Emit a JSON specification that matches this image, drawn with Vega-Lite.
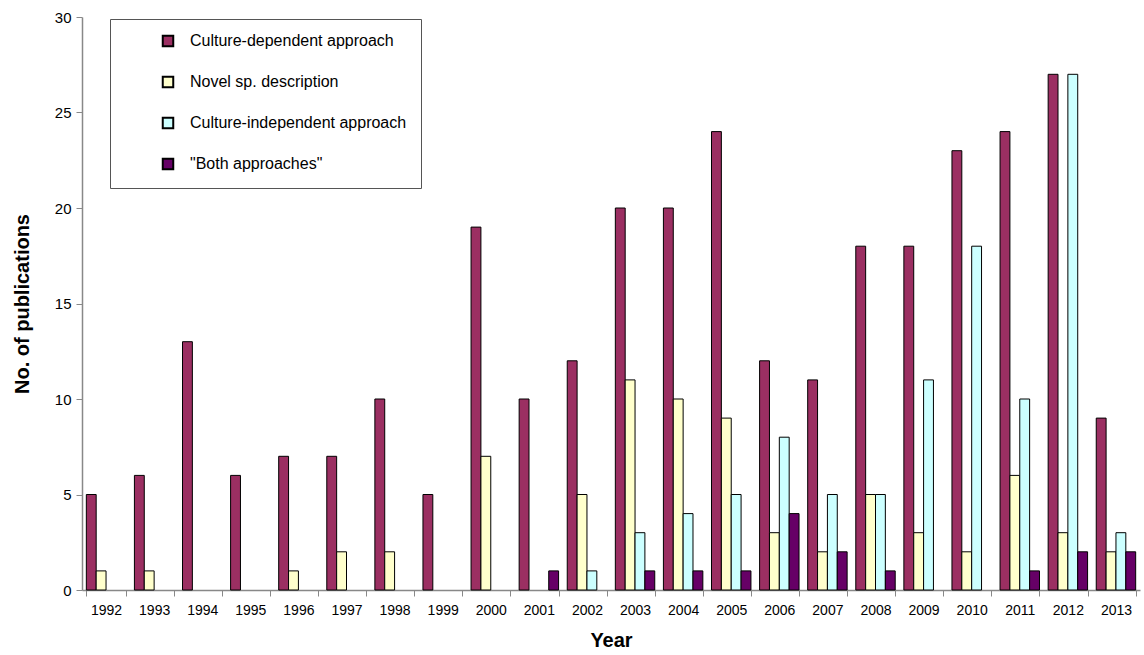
{
  "$schema": "https://vega.github.io/schema/vega-lite/v6.json",
  "width": 1058,
  "height": 573,
  "autosize": {"type": "none"},
  "padding": {"left": 82, "top": 17, "right": 4, "bottom": 65},
  "background": "white",
  "config": {
    "view": {"stroke": null},
    "font": "Liberation Sans",
    "axis": {"labelFont": "Liberation Sans", "titleFont": "Liberation Sans"}
  },
  "data": {
    "values": [
      {"year": "1992", "type": "Culture-dependent approach", "n": 5},
      {"year": "1993", "type": "Culture-dependent approach", "n": 6},
      {"year": "1994", "type": "Culture-dependent approach", "n": 13},
      {"year": "1995", "type": "Culture-dependent approach", "n": 6},
      {"year": "1996", "type": "Culture-dependent approach", "n": 7},
      {"year": "1997", "type": "Culture-dependent approach", "n": 7},
      {"year": "1998", "type": "Culture-dependent approach", "n": 10},
      {"year": "1999", "type": "Culture-dependent approach", "n": 5},
      {"year": "2000", "type": "Culture-dependent approach", "n": 19},
      {"year": "2001", "type": "Culture-dependent approach", "n": 10},
      {"year": "2002", "type": "Culture-dependent approach", "n": 12},
      {"year": "2003", "type": "Culture-dependent approach", "n": 20},
      {"year": "2004", "type": "Culture-dependent approach", "n": 20},
      {"year": "2005", "type": "Culture-dependent approach", "n": 24},
      {"year": "2006", "type": "Culture-dependent approach", "n": 12},
      {"year": "2007", "type": "Culture-dependent approach", "n": 11},
      {"year": "2008", "type": "Culture-dependent approach", "n": 18},
      {"year": "2009", "type": "Culture-dependent approach", "n": 18},
      {"year": "2010", "type": "Culture-dependent approach", "n": 23},
      {"year": "2011", "type": "Culture-dependent approach", "n": 24},
      {"year": "2012", "type": "Culture-dependent approach", "n": 27},
      {"year": "2013", "type": "Culture-dependent approach", "n": 9},
      {"year": "1992", "type": "Novel sp. description", "n": 1},
      {"year": "1993", "type": "Novel sp. description", "n": 1},
      {"year": "1996", "type": "Novel sp. description", "n": 1},
      {"year": "1997", "type": "Novel sp. description", "n": 2},
      {"year": "1998", "type": "Novel sp. description", "n": 2},
      {"year": "2000", "type": "Novel sp. description", "n": 7},
      {"year": "2002", "type": "Novel sp. description", "n": 5},
      {"year": "2003", "type": "Novel sp. description", "n": 11},
      {"year": "2004", "type": "Novel sp. description", "n": 10},
      {"year": "2005", "type": "Novel sp. description", "n": 9},
      {"year": "2006", "type": "Novel sp. description", "n": 3},
      {"year": "2007", "type": "Novel sp. description", "n": 2},
      {"year": "2008", "type": "Novel sp. description", "n": 5},
      {"year": "2009", "type": "Novel sp. description", "n": 3},
      {"year": "2010", "type": "Novel sp. description", "n": 2},
      {"year": "2011", "type": "Novel sp. description", "n": 6},
      {"year": "2012", "type": "Novel sp. description", "n": 3},
      {"year": "2013", "type": "Novel sp. description", "n": 2},
      {"year": "2002", "type": "Culture-independent approach", "n": 1},
      {"year": "2003", "type": "Culture-independent approach", "n": 3},
      {"year": "2004", "type": "Culture-independent approach", "n": 4},
      {"year": "2005", "type": "Culture-independent approach", "n": 5},
      {"year": "2006", "type": "Culture-independent approach", "n": 8},
      {"year": "2007", "type": "Culture-independent approach", "n": 5},
      {"year": "2008", "type": "Culture-independent approach", "n": 5},
      {"year": "2009", "type": "Culture-independent approach", "n": 11},
      {"year": "2010", "type": "Culture-independent approach", "n": 18},
      {"year": "2011", "type": "Culture-independent approach", "n": 10},
      {"year": "2012", "type": "Culture-independent approach", "n": 27},
      {"year": "2013", "type": "Culture-independent approach", "n": 3},
      {"year": "2001", "type": "\"Both approaches\"", "n": 1},
      {"year": "2003", "type": "\"Both approaches\"", "n": 1},
      {"year": "2004", "type": "\"Both approaches\"", "n": 1},
      {"year": "2005", "type": "\"Both approaches\"", "n": 1},
      {"year": "2006", "type": "\"Both approaches\"", "n": 4},
      {"year": "2007", "type": "\"Both approaches\"", "n": 2},
      {"year": "2008", "type": "\"Both approaches\"", "n": 1},
      {"year": "2011", "type": "\"Both approaches\"", "n": 1},
      {"year": "2012", "type": "\"Both approaches\"", "n": 2},
      {"year": "2013", "type": "\"Both approaches\"", "n": 2}
    ]
  },
  "mark": {"type": "bar", "stroke": "black", "strokeWidth": 1},
  "encoding": {
    "x": {
      "field": "year",
      "type": "nominal",
      "scale": {"domain": ["1992","1993","1994","1995","1996","1997","1998","1999","2000","2001","2002","2003","2004","2005","2006","2007","2008","2009","2010","2011","2012","2013"], "paddingInner": 0.18, "paddingOuter": 0.09},
      "axis": {
        "title": "Year",
        "titleFontSize": 20,
        "titleFontWeight": "bold",
        "titleColor": "black",
        "titlePadding": 13,
        "labelAngle": 0,
        "labelFontSize": 14,
        "labelColor": "black",
        "labelPadding": 7,
        "tickBand": "extent",
        "tickSize": 6,
        "tickColor": "#888888",
        "domainColor": "#888888",
        "domainWidth": 1.5
      }
    },
    "xOffset": {
      "field": "type",
      "type": "nominal",
      "scale": {"domain": ["Culture-dependent approach", "Novel sp. description", "Culture-independent approach", "\"Both approaches\""], "paddingInner": 0, "paddingOuter": 0}
    },
    "y": {
      "field": "n",
      "type": "quantitative",
      "scale": {"domain": [0, 30], "nice": false},
      "axis": {
        "title": "No. of publications",
        "titleFontSize": 20,
        "titleFontWeight": "bold",
        "titleColor": "black",
        "titlePadding": 22,
        "values": [0, 5, 10, 15, 20, 25, 30],
        "grid": false,
        "labelFontSize": 15,
        "labelColor": "black",
        "labelPadding": 5,
        "tickSize": 6,
        "tickColor": "#888888",
        "domainColor": "#888888",
        "domainWidth": 1.5
      }
    },
    "color": {
      "field": "type",
      "type": "nominal",
      "sort": null,
      "scale": {
        "domain": ["Culture-dependent approach", "Novel sp. description", "Culture-independent approach", "\"Both approaches\""],
        "range": ["#9B2F62", "#FFFFCC", "#CCFFFF", "#660066"]
      },
      "legend": {
        "title": null,
        "orient": "none",
        "legendX": 28,
        "legendY": 2,
        "direction": "vertical",
        "symbolType": "square",
        "symbolSize": 110,
        "symbolStrokeColor": "black",
        "symbolStrokeWidth": 2,
        "symbolOffset": 36,
        "labelFontSize": 16,
        "labelColor": "black",
        "labelOffset": 14,
        "rowPadding": 21,
        "padding": 14,
        "strokeColor": "#555555",
        "fillColor": "white",
        "labelLimit": 400
      }
    }
  }
}
